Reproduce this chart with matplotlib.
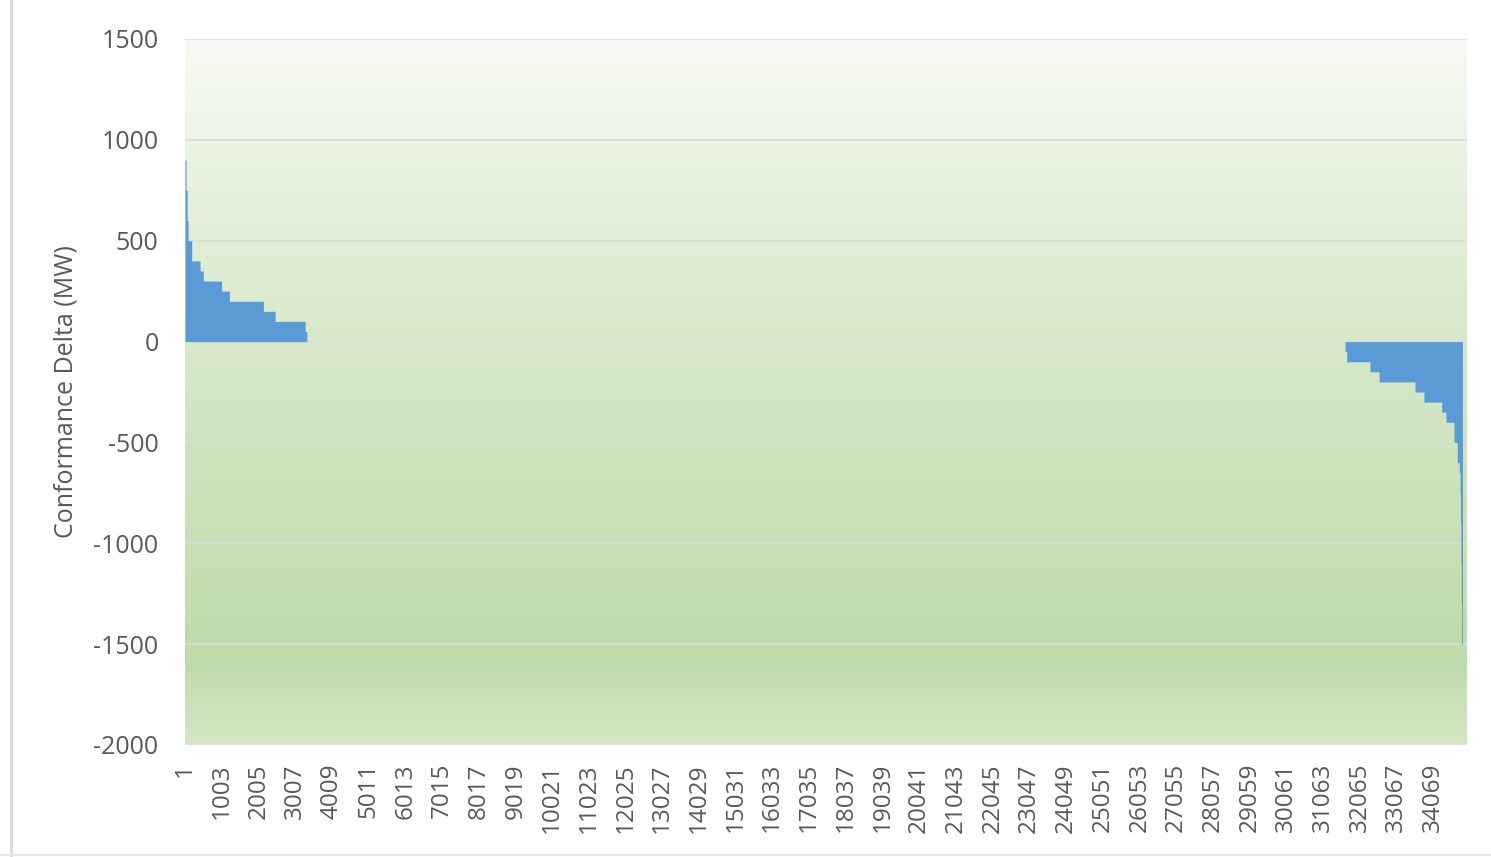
import matplotlib
matplotlib.use('Agg')
import matplotlib.pyplot as plt
import numpy as np
from matplotlib.colors import LinearSegmentedColormap
from matplotlib.lines import Line2D

# ----------------------------------------------------
# Data: sorted conformance deltas as step runs
# (value of each run, last category index of the run)
# ----------------------------------------------------
n_points = 35000

step_values = [900, 750, 600, 500, 400, 350, 300, 250, 200, 150, 100, 50,
               0,
               -50, -100, -150, -200, -250, -300, -350, -400, -500,
               -600, -650, -750, -900, -1100, -1300, -1500,
               0]
step_ends = [30, 60, 85, 183, 410, 500, 1000, 1210, 2140, 2460, 3280, 3325,
             31670,
             31715, 32350, 32600, 33580, 33825, 34310, 34425, 34645, 34735,
             34790, 34810, 34822, 34832, 34842, 34852, 34875,
             n_points]

tick_step = 1002
y_ticks = [1500, 1000, 500, 0, -500, -1000, -1500, -2000]

# build series
counts = np.diff([0] + step_ends)
delta = np.repeat(step_values, counts).astype(float)
idx = np.arange(1, n_points + 1)

plt.rcParams['font.family'] = ['Open Sans', 'DejaVu Sans']

fig = plt.figure(figsize=(14.91, 8.57), dpi=100)
ax = fig.add_axes([185 / 1491, 1 - 745 / 857, (1467 - 185) / 1491, (745 - 39) / 857])

# gradient background like the Excel plot area
grad = LinearSegmentedColormap.from_list(
    'bg', [(0.0, '#d3e7c5'), (0.12, '#bfdba9'), (0.45, '#cfe4c0'),
           (0.75, '#e3efd9'), (1.0, '#f8fbf5')])
g = np.linspace(0, 1, 256).reshape(-1, 1)
ax.imshow(g, aspect='auto', cmap=grad, origin='lower',
          extent=[1, n_points, -2000, 1500], zorder=0)

ax.fill_between(idx, delta, 0, step='post', color='#5b9bd5',
                linewidth=0, antialiased=True, zorder=2)

ax.set_xlim(1, n_points)
ax.set_ylim(-2000, 1500)
ax.set_yticks(y_ticks)
ax.set_yticklabels([str(v) for v in y_ticks])
xt = np.arange(1, n_points + 1, tick_step)
ax.set_xticks(xt)
ax.set_xticklabels([str(v) for v in xt], rotation=90)

ax.grid(axis='y', color='#dcdcdc', linewidth=1.2, zorder=1)
ax.set_axisbelow(True)
for s in ax.spines.values():
    s.set_visible(False)
ax.tick_params(axis='y', length=0, labelsize=18, colors='#595959', pad=19)
ax.tick_params(axis='x', length=0, labelsize=17.5, colors='#595959', pad=13)

ax.set_ylabel('Conformance Delta (MW)', fontsize=18, color='#595959', labelpad=11)

# chart border remnants
fig.add_artist(Line2D([11 / 1491, 11 / 1491], [0, 1], color='#d9d9d9', linewidth=2))
fig.add_artist(Line2D([0, 1], [2 / 857, 2 / 857], color='#e6e6e6', linewidth=1.5))

fig.savefig('out.png', dpi=100)
